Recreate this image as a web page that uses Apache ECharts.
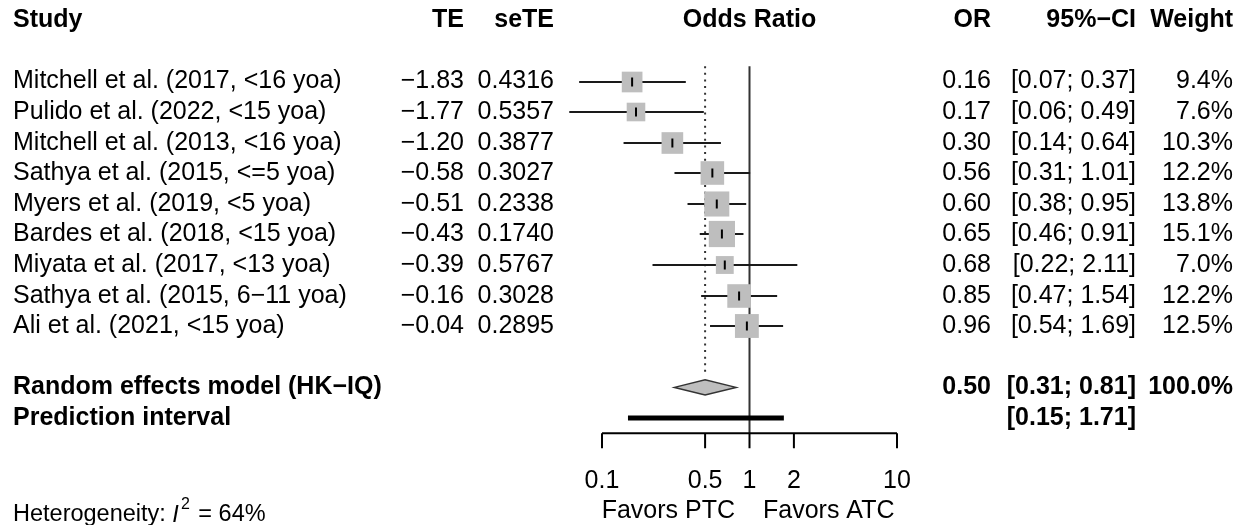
<!DOCTYPE html>
<html>
<head>
<meta charset="utf-8">
<script src="https://cdn.jsdelivr.net/npm/echarts@6/dist/echarts.min.js"></script>
<style>
html,body{margin:0;padding:0;background:#fff;}
#chart{width:1247px;height:525px;}
</style>
</head>
<body>
<div id="chart"></div>
<script>
// ---- data ----
const studies = [
  "Mitchell et al. (2017, <16 yoa)",
  "Pulido et al. (2022, <15 yoa)",
  "Mitchell et al. (2013, <16 yoa)",
  "Sathya et al. (2015, <=5 yoa)",
  "Myers et al. (2019, <5 yoa)",
  "Bardes et al. (2018, <15 yoa)",
  "Miyata et al. (2017, <13 yoa)",
  "Sathya et al. (2015, 6\u221211 yoa)",
  "Ali et al. (2021, <15 yoa)"
];
const te = [-1.83, -1.77, -1.20, -0.58, -0.51, -0.43, -0.39, -0.16, -0.04];
const seTE = [0.4316, 0.5357, 0.3877, 0.3027, 0.2338, 0.1740, 0.5767, 0.3028, 0.2895];
const oddsRatio = [0.16, 0.17, 0.30, 0.56, 0.60, 0.65, 0.68, 0.85, 0.96];
const ciLower = [0.07, 0.06, 0.14, 0.31, 0.38, 0.46, 0.22, 0.47, 0.54];
const ciUpper = [0.37, 0.49, 0.64, 1.01, 0.95, 0.91, 2.11, 1.54, 1.69];
const weights = [9.4, 7.6, 10.3, 12.2, 13.8, 15.1, 7.0, 12.2, 12.5];
const pooled = [0.50, 0.31, 0.81];      // OR, lower, upper
const pooledWeight = 100.0;
const predInterval = [0.15, 1.71];
const axisTicks = [0.1, 0.5, 1, 2, 10];
const tickLabels = ["0.1", "0.5", "1", "2", "10"];
const i2Text = "64%";

// ---- layout constants ----
const FF = '"Liberation Sans", Arial, Helvetica, sans-serif';
const FS = 25;
const NORMAL = FS + 'px ' + FF;
const BOLD = 'bold ' + FS + 'px ' + FF;
const COL_STUDY = 13, COL_TE = 464, COL_SE = 554, COL_OR = 991, COL_CI = 1136, COL_W = 1233;
const ROW_FIRST = 2, ROW_RE = 12, ROW_PI = 13, ROW_AXIS = 13.5;
const SQ_K = 6.75;
const L10 = Math.log10;
const minus = v => (v < 0 ? '\u2212' : '') + Math.abs(v).toFixed(2);
const f2 = v => v.toFixed(2);
const ci = (l, u) => '[' + f2(l) + '; ' + f2(u) + ']';

function txt(s, x, y, align, font) {
  return { type: 'text', silent: true, style: { text: s, x: x, y: y, align: align, verticalAlign: 'middle', font: font, fill: '#000' } };
}

const studyData = studies.map((s, i) => [L10(oddsRatio[i]), ROW_FIRST + i, L10(ciLower[i]), L10(ciUpper[i]), weights[i], i]);

const option = {
  animation: false,
  grid: { left: 602, width: 295, top: 5.1, height: 520.625 },
  xAxis: { type: 'value', min: -1, max: 1, show: false },
  yAxis: { type: 'value', min: -0.5, max: 16.5, inverse: true, show: false },
  series: [
    { // reference lines
      type: 'custom', clip: false, z: 1,
      data: [[0]],
      renderItem: function (params, api) {
        const top = api.coord([0, ROW_FIRST - 0.5]);
        const bot = api.coord([0, ROW_AXIS]);
        const pTop = api.coord([L10(pooled[0]), ROW_FIRST - 0.5]);
        const pBot = api.coord([L10(pooled[0]), ROW_RE - 0.38]);
        return { type: 'group', children: [
          { type: 'line', shape: { x1: top[0], y1: top[1], x2: bot[0], y2: bot[1] }, style: { stroke: '#333', lineWidth: 2 } },
          { type: 'line', shape: { x1: pTop[0], y1: pTop[1], x2: pBot[0], y2: pBot[1] }, style: { stroke: '#333', lineWidth: 2, lineDash: [2, 4.6] } }
        ] };
      }
    },
    { // studies
      type: 'custom', clip: false, z: 2,
      data: studyData,
      renderItem: function (params, api) {
        const i = api.value(5);
        const c = api.coord([api.value(0), api.value(1)]);
        const lo = api.coord([api.value(2), api.value(1)]);
        const hi = api.coord([api.value(3), api.value(1)]);
        const sz = SQ_K * Math.sqrt(api.value(4));
        const y = Math.round(c[1]);
        return { type: 'group', children: [
          { type: 'line', shape: { x1: lo[0], y1: y, x2: hi[0], y2: y }, style: { stroke: '#1a1a1a', lineWidth: 2 } },
          { type: 'rect', shape: { x: c[0] - sz / 2, y: y - sz / 2, width: sz, height: sz }, style: { fill: '#bebebe' } },
          { type: 'line', shape: { x1: c[0], y1: y - 4.5, x2: c[0], y2: y + 4.5 }, style: { stroke: '#000', lineWidth: 2 } },
          txt(studies[i], COL_STUDY, c[1], 'left', NORMAL),
          txt(minus(te[i]), COL_TE, c[1], 'right', NORMAL),
          txt(seTE[i].toFixed(4), COL_SE, c[1], 'right', NORMAL),
          txt(f2(oddsRatio[i]), COL_OR, c[1], 'right', NORMAL),
          txt(ci(ciLower[i], ciUpper[i]), COL_CI, c[1], 'right', NORMAL),
          txt(weights[i].toFixed(1) + '%', COL_W, c[1], 'right', NORMAL)
        ] };
      }
    },
    { // pooled diamond + prediction interval
      type: 'custom', clip: false, z: 3,
      data: [[L10(pooled[0]), L10(pooled[1]), L10(pooled[2]), L10(predInterval[0]), L10(predInterval[1])]],
      renderItem: function (params, api) {
        const c = api.coord([api.value(0), ROW_RE]);
        const lo = api.coord([api.value(1), ROW_RE]);
        const hi = api.coord([api.value(2), ROW_RE]);
        const pl = api.coord([api.value(3), ROW_PI]);
        const ph = api.coord([api.value(4), ROW_PI]);
        const h = 7.5;
        return { type: 'group', children: [
          { type: 'polygon', shape: { points: [[lo[0], c[1]], [c[0], c[1] - h], [hi[0], c[1]], [c[0], c[1] + h]] }, style: { fill: '#bebebe', stroke: '#333', lineWidth: 1.5 } },
          { type: 'rect', shape: { x: pl[0], y: pl[1] - 2.5, width: ph[0] - pl[0], height: 5 }, style: { fill: '#000' } },
          txt('Random effects model (HK\u2212IQ)', COL_STUDY, c[1], 'left', BOLD),
          txt(f2(pooled[0]), COL_OR, c[1], 'right', BOLD),
          txt(ci(pooled[1], pooled[2]), COL_CI, c[1], 'right', BOLD),
          txt(pooledWeight.toFixed(1) + '%', COL_W, c[1], 'right', BOLD),
          txt('Prediction interval', COL_STUDY, pl[1], 'left', BOLD),
          txt(ci(predInterval[0], predInterval[1]), COL_CI, pl[1], 'right', BOLD)
        ] };
      }
    },
    { // x axis
      type: 'custom', clip: false, z: 4,
      data: [[0]],
      renderItem: function (params, api) {
        const a = api.coord([L10(axisTicks[0]), ROW_AXIS]);
        const b = api.coord([L10(axisTicks[axisTicks.length - 1]), ROW_AXIS]);
        const ch = [{ type: 'line', shape: { x1: a[0], y1: a[1], x2: b[0], y2: b[1] }, style: { stroke: '#000', lineWidth: 2 } }];
        axisTicks.forEach((t, k) => {
          const p = api.coord([L10(t), ROW_AXIS]);
          ch.push({ type: 'line', shape: { x1: p[0], y1: p[1], x2: p[0], y2: p[1] + 15 }, style: { stroke: '#000', lineWidth: 2 } });
          ch.push(txt(tickLabels[k], p[0], p[1] + 48, 'center', NORMAL));
        });
        const one = api.coord([0, ROW_AXIS]);
        ch.push(txt('Favors PTC', one[0] - 14.5, one[1] + 78, 'right', NORMAL));
        ch.push(txt('Favors ATC', one[0] + 13.5, one[1] + 78, 'left', NORMAL));
        return { type: 'group', children: ch };
      }
    }
  ],
  graphic: [
    { type: 'text', x: COL_STUDY, y: 20.4, style: { text: 'Study', font: BOLD, fill: '#000', align: 'left', verticalAlign: 'middle' } },
    { type: 'text', x: COL_TE, y: 20.4, style: { text: 'TE', font: BOLD, fill: '#000', align: 'right', verticalAlign: 'middle' } },
    { type: 'text', x: COL_SE, y: 20.4, style: { text: 'seTE', font: BOLD, fill: '#000', align: 'right', verticalAlign: 'middle' } },
    { type: 'text', x: 749.5, y: 20.4, style: { text: 'Odds Ratio', font: BOLD, fill: '#000', align: 'center', verticalAlign: 'middle' } },
    { type: 'text', x: COL_OR, y: 20.4, style: { text: 'OR', font: BOLD, fill: '#000', align: 'right', verticalAlign: 'middle' } },
    { type: 'text', x: COL_CI, y: 20.4, style: { text: '95%\u2212CI', font: BOLD, fill: '#000', align: 'right', verticalAlign: 'middle' } },
    { type: 'text', x: COL_W, y: 20.4, style: { text: 'Weight', font: BOLD, fill: '#000', align: 'right', verticalAlign: 'middle' } },
    { type: 'text', x: COL_STUDY, y: 512, style: {
      text: '{a|Heterogeneity: }{i|I}{s|2}{a| = ' + i2Text + '}',
      verticalAlign: 'middle',
      rich: {
        a: { fontFamily: FF, fontSize: 23.5, color: '#222', lineHeight: 30, verticalAlign: 'bottom' },
        i: { fontFamily: FF, fontSize: 23.5, fontStyle: 'italic', color: '#222', lineHeight: 30, verticalAlign: 'bottom' },
        s: { fontFamily: FF, fontSize: 16, color: '#222', lineHeight: 30, verticalAlign: 'top', padding: [0, 2, 0, 2] }
      }
    } }
  ]
};

const chart = echarts.init(document.getElementById('chart'), null, { renderer: 'canvas' });
chart.setOption(option);
</script>
</body>
</html>
